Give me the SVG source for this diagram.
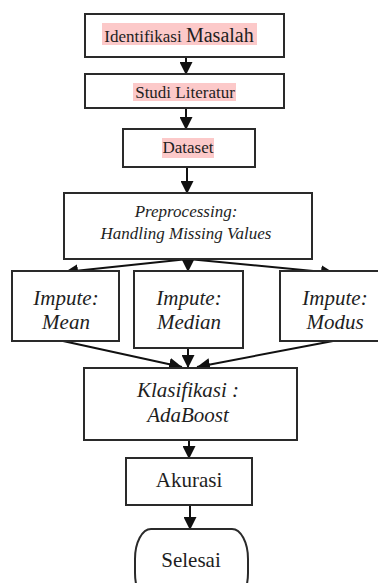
<svg xmlns="http://www.w3.org/2000/svg" width="378" height="583" viewBox="0 0 378 583">
<defs>
<style>
.box{fill:#fff;stroke:#2a2a2a;stroke-width:2}
.hl{fill:#fcc9c9}
text{font-family:'Liberation Serif','Tinos','Times New Roman','DejaVu Serif',serif;fill:#1e1e1e;text-anchor:middle}
.ti{font-style:italic}
.c{stroke:#111;stroke-width:2;fill:none;marker-end:url(#ah)}
</style>
<marker id="ah" markerUnits="userSpaceOnUse" markerWidth="14" markerHeight="13" refX="13" refY="6.5" orient="auto">
<path d="M0,0 L13,6.5 L0,13 z" fill="#111"/>
</marker>
</defs>
<rect width="378" height="583" fill="#fff"/>
<g id="connectors">
<line class="c" x1="186" y1="57" x2="186" y2="75"/>
<line class="c" x1="186" y1="108" x2="186" y2="130"/>
<line class="c" x1="187" y1="167" x2="187" y2="194"/>
<line class="c" x1="188" y1="259" x2="65" y2="272"/>
<line class="c" x1="188" y1="259" x2="188" y2="272"/>
<line class="c" x1="188" y1="259" x2="334" y2="273"/>
<line class="c" x1="63" y1="341" x2="182" y2="367"/>
<line class="c" x1="188" y1="348" x2="188" y2="368"/>
<line class="c" x1="333" y1="341" x2="197" y2="367"/>
<line class="c" x1="189" y1="440" x2="189" y2="459"/>
<line class="c" x1="190" y1="505" x2="190" y2="530"/>
</g>
<g id="identifikasi">
<rect class="box" x="85" y="14" width="199" height="43"/>
<rect class="hl" x="102" y="23" width="155" height="22"/>
<text x="179" y="42"><tspan font-size="17">Identifikasi </tspan><tspan font-size="20">Masalah</tspan></text>
</g>
<g id="studi">
<rect class="box" x="85" y="74" width="199" height="34"/>
<rect class="hl" x="133" y="83" width="103" height="18"/>
<text x="185" y="98" font-size="17">Studi Literatur</text>
</g>
<g id="dataset">
<rect class="box" x="123" y="129" width="132" height="38"/>
<rect class="hl" x="162" y="138" width="52" height="20"/>
<text x="188" y="153" font-size="17">Dataset</text>
</g>
<g id="preprocessing">
<rect class="box" x="64" y="193" width="248" height="66"/>
<text class="ti" x="186" y="217" font-size="17">Preprocessing:</text>
<text class="ti" x="186" y="239" font-size="17">Handling Missing Values</text>
</g>
<g id="mean">
<rect class="box" x="12" y="271" width="107" height="70"/>
<text class="ti" x="66" y="305" font-size="21">Impute:</text>
<text class="ti" x="66" y="329" font-size="21">Mean</text>
</g>
<g id="median">
<rect class="box" x="134" y="271" width="109" height="77"/>
<text class="ti" x="189" y="305" font-size="21">Impute:</text>
<text class="ti" x="189" y="329" font-size="21">Median</text>
</g>
<g id="modus">
<rect class="box" x="280" y="271" width="110" height="70"/>
<text class="ti" x="335" y="305" font-size="21">Impute:</text>
<text class="ti" x="335" y="329" font-size="21">Modus</text>
</g>
<g id="klasifikasi">
<rect class="box" x="84" y="368" width="213" height="72"/>
<text class="ti" x="188" y="397" font-size="21">Klasifikasi :</text>
<text class="ti" x="188" y="422" font-size="21">AdaBoost</text>
</g>
<g id="akurasi">
<rect class="box" x="126" y="458" width="126" height="47"/>
<text x="189" y="487" font-size="21">Akurasi</text>
</g>
<g id="selesai">
<rect class="box" x="135" y="529" width="113" height="74" rx="16" ry="30"/>
<text x="191" y="567" font-size="21">Selesai</text>
</g>
</svg>
